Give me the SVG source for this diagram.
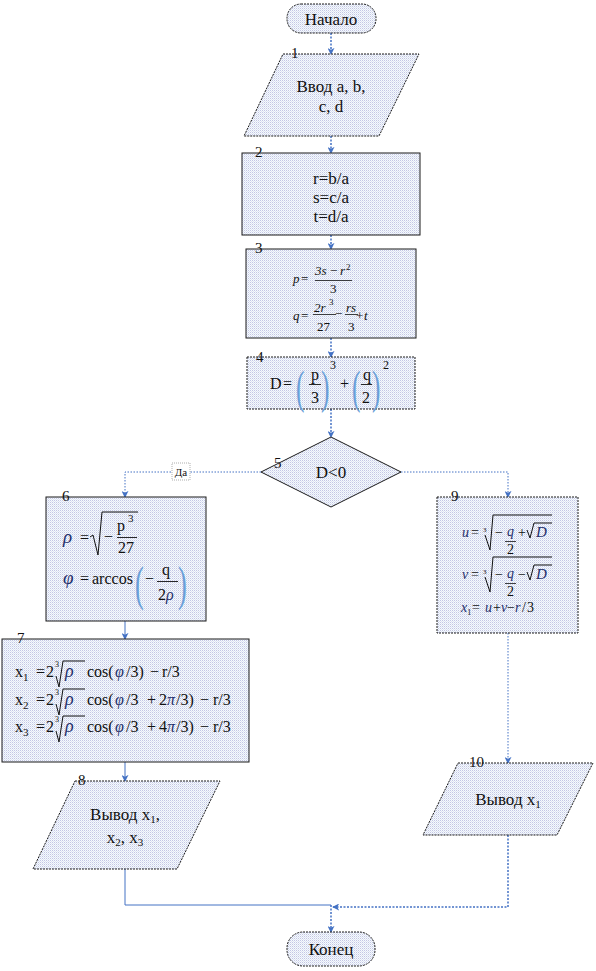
<svg xmlns="http://www.w3.org/2000/svg" width="596" height="971" viewBox="0 0 596 971" font-family="'Liberation Serif', 'Times New Roman', serif">
<defs>
<pattern id="tex" width="2" height="2" patternUnits="userSpaceOnUse">
<rect width="2" height="2" fill="#f8f9fc"/>
<rect x="0" y="0" width="1" height="1" fill="#c2c7e5"/>
<rect x="1" y="1" width="1" height="1" fill="#dbe5f4"/>
</pattern>
<marker id="arr" viewBox="0 0 8 8" refX="7" refY="4" markerWidth="7" markerHeight="7" markerUnits="userSpaceOnUse" orient="auto">
<path d="M0,0 L8,4 L0,8 L2,4 z" fill="#4472c4"/>
</marker>
<style>
.shape{fill:url(#tex);stroke:#1a1a1a;stroke-width:1}
.dsh{stroke-dasharray:2,1}
.t{font-family:'Liberation Serif','Times New Roman',serif;fill:#111}
.m{font-size:17px;text-anchor:middle}
.num{font-size:15px}
.i{font-style:italic}
.gr{fill:#1f2f6b}
.par{fill:#6a9fd8}
.c{fill:none;stroke:#4472c4}
.dot{stroke-width:1.5;stroke-dasharray:2,1.5}
.sol{stroke-width:1}
.rad{fill:none;stroke:#111;stroke-width:1}
</style>
</defs>

<g id="connectors">
<line class="c dot" x1="331" y1="33" x2="331" y2="54" marker-end="url(#arr)"/>
<line class="c dot" x1="331" y1="136" x2="331" y2="153" marker-end="url(#arr)"/>
<line class="c dot" x1="331" y1="235" x2="331" y2="249" marker-end="url(#arr)"/>
<line class="c dot" x1="331" y1="338" x2="331" y2="357" marker-end="url(#arr)"/>
<line class="c dot" x1="331" y1="409" x2="331" y2="437" marker-end="url(#arr)"/>
<polyline class="c" stroke-width="1" stroke-dasharray="1.5,1.5" points="261,472 125,472 125,497" marker-end="url(#arr)"/>
<polyline class="c" stroke-width="1" stroke-dasharray="1.5,1.5" points="401,472 508,472 508,497" marker-end="url(#arr)"/>
<line class="c sol" x1="125" y1="621" x2="125" y2="639" marker-end="url(#arr)"/>
<line class="c sol" x1="125" y1="762" x2="125" y2="781" marker-end="url(#arr)"/>
<polyline class="c sol" points="125,869 125,905 331,905"/>
<line class="c" stroke-width="1" stroke-dasharray="1.5,1.5" x1="508" y1="633" x2="508" y2="763" marker-end="url(#arr)"/>
<polyline class="c dot" points="508,835 508,907 333,907" marker-end="url(#arr)"/>
<line class="c dot" x1="331" y1="905" x2="331" y2="932" marker-end="url(#arr)"/>
<rect x="172" y="463" width="18" height="17" fill="#fff" stroke="#999" stroke-width="0.8" stroke-dasharray="1,1"/>
<text class="t" x="181" y="476" font-size="11" text-anchor="middle" fill="#333">Да</text>
</g>

<g id="start">
<rect class="shape dsh" x="287" y="4" width="89" height="29" rx="14"/>
<text class="t m" x="331" y="25">Начало</text>
</g>

<g id="node1">
<polygon class="shape dsh" points="283,54 419,54 379,136 244,136"/>
<text class="t num" x="291" y="58">1</text>
<text class="t m" x="331" y="92">Ввод a, b,</text>
<text class="t m" x="331" y="112">c, d</text>
</g>

<g id="node2">
<rect class="shape" x="242" y="153" width="178" height="82"/>
<text class="t num" x="255" y="157">2</text>
<text class="t m" x="331" y="184">r=b/a</text>
<text class="t m" x="331" y="203">s=c/a</text>
<text class="t m" x="331" y="222">t=d/a</text>
</g>

<g id="node3">
<rect class="shape" x="246" y="249" width="170" height="89"/>
<text class="t num" x="255" y="253">3</text>
<g class="t i" font-size="13">
<text x="293" y="283">p</text>
<text x="301" y="283" font-style="normal">=</text>
<text x="315" y="275">3s</text>
<text x="330" y="275" font-style="normal">−</text>
<text x="340" y="275">r</text>
<text x="346" y="270" font-size="9" font-style="normal">2</text>
<text x="330" y="293" font-style="normal">3</text>
<text x="293" y="320">q</text>
<text x="301" y="320" font-style="normal">=</text>
<text x="314" y="312">2r</text>
<text x="329" y="305" font-size="9" font-style="normal">3</text>
<text x="317" y="331" font-style="normal">27</text>
<text x="335" y="318" font-style="normal">−</text>
<text x="346" y="312">rs</text>
<text x="348" y="331" font-style="normal">3</text>
<text x="356" y="320" font-style="normal">+</text>
<text x="364" y="320">t</text>
</g>
<line x1="315" y1="280.5" x2="352" y2="280.5" stroke="#111" stroke-width="0.8"/>
<line x1="313" y1="314.5" x2="336" y2="314.5" stroke="#111" stroke-width="0.8"/>
<line x1="345" y1="314.5" x2="358" y2="314.5" stroke="#111" stroke-width="0.8"/>
</g>

<g id="node4">
<rect class="shape dsh" x="247" y="357" width="168" height="52"/>
<text class="t num" x="256" y="362">4</text>
<g class="t" font-size="16">
<text x="270" y="389">D</text>
<text x="283" y="389">=</text>
<text class="par" transform="translate(296,403) scale(0.55,1)" font-size="46">(</text>
<text x="311" y="380">p</text>
<text x="311" y="403">3</text>
<text class="par" transform="translate(321,403) scale(0.55,1)" font-size="46">)</text>
<text x="330" y="369" font-size="12">3</text>
<text x="340" y="389">+</text>
<text class="par" transform="translate(352,403) scale(0.55,1)" font-size="46">(</text>
<text x="363" y="380">q</text>
<text x="362" y="403">2</text>
<text class="par" transform="translate(372,403) scale(0.55,1)" font-size="46">)</text>
<text x="383" y="369" font-size="12">2</text>
</g>
<line x1="309" y1="384.5" x2="321" y2="384.5" stroke="#111" stroke-width="0.9"/>
<line x1="361" y1="384.5" x2="372" y2="384.5" stroke="#111" stroke-width="0.9"/>
</g>

<g id="node5">
<polygon class="shape" points="331,437 401,472 331,507 261,472"/>
<text class="t num" x="274" y="468">5</text>
<text class="t m" x="331" y="478">D&lt;0</text>
</g>

<g id="node6">
<rect class="shape" x="46" y="497" width="160" height="124"/>
<text class="t num" x="62" y="501">6</text>
<g class="t" font-size="16">
<text class="i gr" x="63" y="543" font-size="19">ρ</text>
<text x="80" y="543">=</text>
<text x="104" y="542">−</text>
<text x="117" y="531">p</text>
<text x="128" y="522" font-size="11">3</text>
<text x="118" y="553">27</text>
<text class="i gr" x="63" y="584" font-size="19">φ</text>
<text x="80" y="584">=</text>
<text x="92" y="584">arccos</text>
<text class="par" transform="translate(135,600) scale(0.55,1)" font-size="48">(</text>
<text x="145" y="584">−</text>
<text x="162" y="575">q</text>
<text x="158" y="600">2<tspan class="i gr">ρ</tspan></text>
<text class="par" transform="translate(178,600) scale(0.55,1)" font-size="48">)</text>
</g>
<polyline class="rad" points="90,537 93,535 98,555 102,512 138,512"/>
<line x1="117" y1="537.5" x2="137" y2="537.5" stroke="#111" stroke-width="0.9"/>
<line x1="157" y1="581.5" x2="178" y2="581.5" stroke="#111" stroke-width="0.9"/>
</g>

<g id="node7">
<rect class="shape" x="2" y="639" width="247" height="123"/>
<text class="t num" x="17" y="643">7</text>
<g class="t" font-size="16">
<text x="15" y="677">x<tspan font-size="11" dy="4">1</tspan></text>
<text x="36" y="677">=</text>
<text x="46" y="677">2</text>
<text x="55" y="667" font-size="8">3</text>
<text class="i gr" x="65" y="677" font-size="18">ρ</text>
<text x="87" y="677">cos(</text>
<text class="i gr" x="115" y="677">φ</text>
<text x="126" y="677">/3)</text>
<text x="150" y="677">−</text>
<text x="162" y="677">r/3</text>

<text x="15" y="705">x<tspan font-size="11" dy="4">2</tspan></text>
<text x="36" y="705">=</text>
<text x="46" y="705">2</text>
<text x="55" y="695" font-size="8">3</text>
<text class="i gr" x="65" y="705" font-size="18">ρ</text>
<text x="87" y="705">cos(</text>
<text class="i gr" x="115" y="705">φ</text>
<text x="126" y="705">/3</text>
<text x="147" y="705">+</text>
<text x="159" y="705">2</text>
<text class="i gr" x="167" y="705">π</text>
<text x="176" y="705">/3)</text>
<text x="200" y="705">−</text>
<text x="213" y="705">r/3</text>

<text x="15" y="732">x<tspan font-size="11" dy="4">3</tspan></text>
<text x="36" y="732">=</text>
<text x="46" y="732">2</text>
<text x="55" y="722" font-size="8">3</text>
<text class="i gr" x="65" y="732" font-size="18">ρ</text>
<text x="87" y="732">cos(</text>
<text class="i gr" x="115" y="732">φ</text>
<text x="126" y="732">/3</text>
<text x="147" y="732">+</text>
<text x="159" y="732">4</text>
<text class="i gr" x="167" y="732">π</text>
<text x="176" y="732">/3)</text>
<text x="200" y="732">−</text>
<text x="213" y="732">r/3</text>
</g>
<polyline class="rad" points="56,676 59,687 63,661 85,661"/>
<polyline class="rad" points="56,704 59,715 63,689 85,689"/>
<polyline class="rad" points="56,731 59,742 63,716 85,716"/>
</g>

<g id="node8">
<polygon class="shape dsh" points="75,781 220,781 177,869 33,869"/>
<text class="t num" x="78" y="785">8</text>
<text class="t m" x="125" y="820">Вывод x<tspan font-size="11" dy="3">1</tspan><tspan dy="-3">,</tspan></text>
<text class="t m" x="125" y="843">x<tspan font-size="11" dy="3">2</tspan><tspan dy="-3">, x</tspan><tspan font-size="11" dy="3">3</tspan></text>
</g>

<g id="node9">
<rect class="shape dsh" x="437" y="497" width="141" height="136"/>
<text class="t num" x="451" y="501">9</text>
<g class="t" font-size="14">
<text class="i gr" x="462" y="537">u</text>
<text x="471" y="537">=</text>
<text x="483" y="532" font-size="7">3</text>
<text x="495" y="537">−</text>
<text class="i gr" x="507" y="536">q</text>
<text x="507" y="554">2</text>
<text x="518" y="537">+</text>
<text class="i gr" x="536" y="537" font-size="15">D</text>

<text class="i gr" x="462" y="579">v</text>
<text x="471" y="579">=</text>
<text x="483" y="574" font-size="7">3</text>
<text x="495" y="579">−</text>
<text class="i gr" x="507" y="578">q</text>
<text x="507" y="596">2</text>
<text x="518" y="579">−</text>
<text class="i gr" x="536" y="579" font-size="15">D</text>

<text class="i gr" x="461" y="612">x<tspan font-size="8" dy="3" font-style="normal" fill="#111">1</tspan></text>
<text x="472" y="612">=</text>
<text class="i gr" x="485" y="612">u</text>
<text x="493" y="612">+</text>
<text class="i gr" x="501" y="612">v</text>
<text x="507" y="612">−</text>
<text class="i gr" x="515" y="612">r</text>
<text x="522" y="612">/</text>
<text x="527" y="612">3</text>
</g>
<polyline class="rad" points="485,535 490,550 493,515 552,515"/>
<line x1="505" y1="541.5" x2="516" y2="541.5" stroke="#111" stroke-width="0.8"/>
<polyline class="rad" points="527,530 530,538 534,523 552,523"/>
<polyline class="rad" points="485,577 490,592 493,557 552,557"/>
<line x1="505" y1="583.5" x2="516" y2="583.5" stroke="#111" stroke-width="0.8"/>
<polyline class="rad" points="527,572 530,580 534,565 552,565"/>
</g>

<g id="node10">
<polygon class="shape dsh" points="458,763 593,763 557,835 423,835"/>
<text class="t num" x="469" y="767">10</text>
<text class="t m" x="508" y="805">Вывод x<tspan font-size="11" dy="3">1</tspan></text>
</g>

<g id="end">
<rect class="shape dsh" x="287" y="932" width="88" height="34" rx="16"/>
<text class="t m" x="331" y="955">Конец</text>
</g>
</svg>
